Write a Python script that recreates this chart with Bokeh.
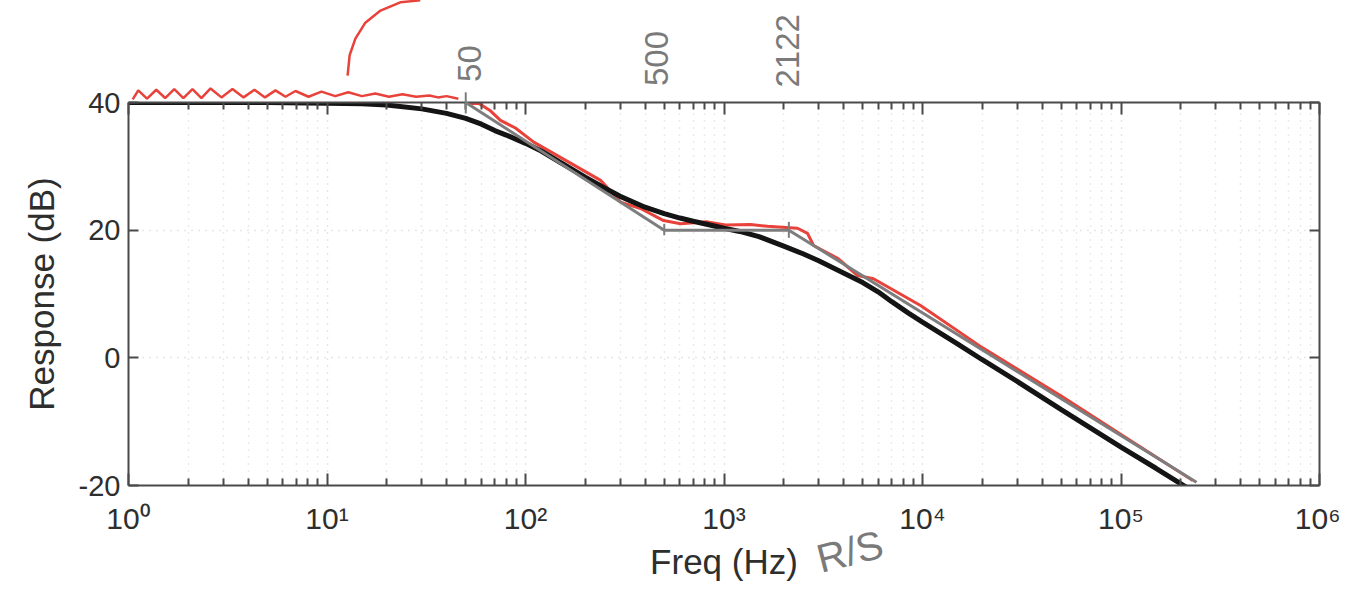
import math
from bokeh.plotting import figure
from bokeh.models import (Range1d, FixedTicker, LinearAxis, LogAxis, LogScale, Grid)
from bokeh.core.properties import value
from bokeh.embed import file_html
from bokeh.resources import INLINE

# ---- data ----
black_freq = [1, 5, 10, 15, 20, 30, 40, 50, 60, 70, 80, 100, 120, 150, 200, 250, 300, 400,
              500, 600, 700, 850, 1000, 1200, 1500, 2000, 2500, 3000, 4000, 5000, 6000,
              7000, 8500, 10000, 15000, 20000, 30000, 50000, 100000, 150000, 214000]
black_db = [40, 40, 39.9, 39.8, 39.6, 39.0, 38.3, 37.5, 36.6, 35.6, 34.9, 33.6, 32.4, 30.6,
            28.3, 26.6, 25.3, 23.6, 22.6, 21.9, 21.4, 20.8, 20.3, 19.8, 19.0, 17.5, 16.3,
            15.2, 13.3, 11.8, 10.3, 8.8, 7.0, 5.6, 2.2, -0.3, -3.7, -8.1, -14.0, -17.3, -20.3]

asym_freq = [50, 500, 2122, 240000]
asym_db = [40, 20, 20, -19.5]

mark_freq = [50, 500, 2122]
mark_top = [41.6, 21.0, 21.3]
mark_bottom = [38.3, 19.2, 18.8]

zig_freq = [1.05, 1.12, 1.24, 1.38, 1.53, 1.70, 1.89, 2.10, 2.33, 2.59, 2.94, 3.34, 3.80,
            4.31, 4.87, 5.50, 6.18, 6.94, 8.07, 9.38, 11.0, 12.8, 15.0, 17.5, 20.5, 24.0,
            28.1, 32.8, 36.2, 40.0, 45.9]
zig_db = [40.5, 41.9, 40.6, 42.0, 40.7, 42.1, 40.7, 42.1, 40.7, 42.2, 40.8, 42.1, 40.8,
          42.0, 40.8, 41.9, 40.9, 41.8, 40.9, 41.7, 41.0, 41.6, 41.0, 41.4, 40.9, 41.3,
          40.9, 41.1, 40.8, 41.0, 40.6]

red_freq = [48, 52.8, 58, 66.6, 74.8, 89, 110, 150, 239, 301, 380, 496, 604, 826, 1018,
            1361, 1656, 2345, 2636, 2825, 3733, 4709, 5663, 9773, 20000, 50000, 100000, 230000]
red_db = [40.4, 39.8, 39.9, 38.7, 37.2, 36.0, 33.8, 31.4, 27.8, 24.4, 23.4, 21.5, 21.0, 21.3,
          20.8, 20.9, 20.6, 20.3, 19.5, 17.6, 15.6, 12.9, 12.4, 8.2, 1.6, -6.0, -12.0, -19.2]

arc_freq = [12.7, 13.0, 13.9, 15.6, 18.6, 23.4, 29.5]
arc_db = [44.2, 47.4, 50.0, 52.5, 54.4, 55.7, 56.0]

note_text = ["50", "500", "2122"]
note_freq = [52, 458, 2086]
note_db = [46.1, 46.9, 48.1]

side_text = ["R/S"]
side_freq = [4300]
side_db = [-30.3]

x_ticks = [1, 10, 100, 1000, 10000, 100000, 1000000]
x_tick_labels = ["10\u2070", "10\u00b9", "10\u00b2", "10\u00b3", "10\u2074", "10\u2075", "10\u2076"]
y_ticks = [-20, 0, 20, 40]
y_tick_labels = ["-20", "0", "20", "40"]

minor = [m * d for d in x_ticks[:-1] for m in range(2, 10)]

FONT = "Liberation Sans"
AX = "#4a4a4a"
TXT = "#2e2e2e"

p = figure(width=1340, height=587, x_axis_type=None, y_axis_type=None,
           x_range=Range1d(1, 1e6), y_range=Range1d(-20, 40),
           output_backend="svg", toolbar_location=None,
           min_border_left=128, min_border_right=21, min_border_top=102, min_border_bottom=102)
p.x_scale = LogScale()
p.outline_line_color = None
p.background_fill_color = "white"
p.border_fill_color = "white"

xt = FixedTicker(ticks=x_ticks, minor_ticks=minor)
yt = FixedTicker(ticks=y_ticks)

def style(ax, show_labels):
    ax.axis_line_color = AX
    ax.axis_line_width = 2
    ax.major_tick_line_color = AX
    ax.minor_tick_line_color = AX
    ax.major_tick_line_width = 2
    ax.minor_tick_line_width = 2
    ax.major_tick_out = 0
    ax.minor_tick_out = 0
    ax.major_label_text_font = FONT
    ax.major_label_text_font_size = "29px"
    ax.major_label_text_color = TXT
    ax.axis_label_text_font = FONT
    ax.axis_label_text_font_size = "35px"
    ax.axis_label_text_font_style = "normal"
    ax.axis_label_text_color = TXT
    if not show_labels:
        ax.major_label_text_alpha = 0
        ax.major_label_text_font_size = "1px"

xb = LogAxis(ticker=xt, axis_label="Freq (Hz)")
style(xb, True)
xb.major_label_text_font_size = "30px"
xb.major_tick_in = 12
xb.minor_tick_in = 7
xb.major_label_overrides = {t: l for t, l in zip(x_ticks, x_tick_labels)}
xb.major_label_standoff = 16
xb.axis_label_standoff = 4
p.add_layout(xb, "below")

xa = LogAxis(ticker=xt)
style(xa, False)
xa.major_tick_in = 12
xa.minor_tick_in = 7
xa.major_label_standoff = 0
p.add_layout(xa, "above")

yl = LinearAxis(ticker=yt, axis_label="Response (dB)")
style(yl, True)
yl.major_tick_in = 10
yl.minor_tick_in = 0
yl.major_label_overrides = {t: l for t, l in zip(y_ticks, y_tick_labels)}
yl.major_label_standoff = 8
yl.axis_label_standoff = 15
p.add_layout(yl, "left")

yr = LinearAxis(ticker=yt)
style(yr, False)
yr.major_tick_in = 10
yr.minor_tick_in = 0
yr.major_label_standoff = 0
p.add_layout(yr, "right")

gx = Grid(dimension=0, ticker=xt, grid_line_color="#cdcdcd", grid_line_dash="1 6",
          grid_line_width=1.5, minor_grid_line_color="#d6d6d6", minor_grid_line_dash="1 6",
          minor_grid_line_width=1.5)
gy = Grid(dimension=1, ticker=yt, grid_line_color="#cdcdcd", grid_line_dash="1 6",
          grid_line_width=1.5)
p.add_layout(gx)
p.add_layout(gy)

# hand-drawn red trace
p.line(zig_freq, zig_db, line_color="#e8423a", line_width=2.5, level="overlay")
p.line(red_freq, red_db, line_color="#e8423a", line_width=3)
p.line(arc_freq, arc_db, line_color="#e8423a", line_width=2.5, level="overlay")

# computed response
p.line(black_freq, black_db, line_color="#141414", line_width=5)

# pencil asymptote
p.line(asym_freq, asym_db, line_color="#7d7d7d", line_width=3, level="overlay")
p.segment(x0=mark_freq, y0=mark_bottom, x1=mark_freq, y1=mark_top,
          line_color="#7d7d7d", line_width=2, level="overlay")

# handwritten notes
p.text(x=note_freq, y=note_db, text=note_text, angle=math.pi / 2, text_align="center",
       text_baseline="middle", text_color="#7a7a7a", text_font=value(FONT),
       text_font_size="33px", level="overlay")
p.text(x=side_freq, y=side_db, text=side_text, angle=0.25, text_align="center",
       text_baseline="middle", text_color="#7a7a7a", text_font=value(FONT),
       text_font_size="40px", level="overlay")

open("out.html", "w").write(file_html(p, INLINE))
